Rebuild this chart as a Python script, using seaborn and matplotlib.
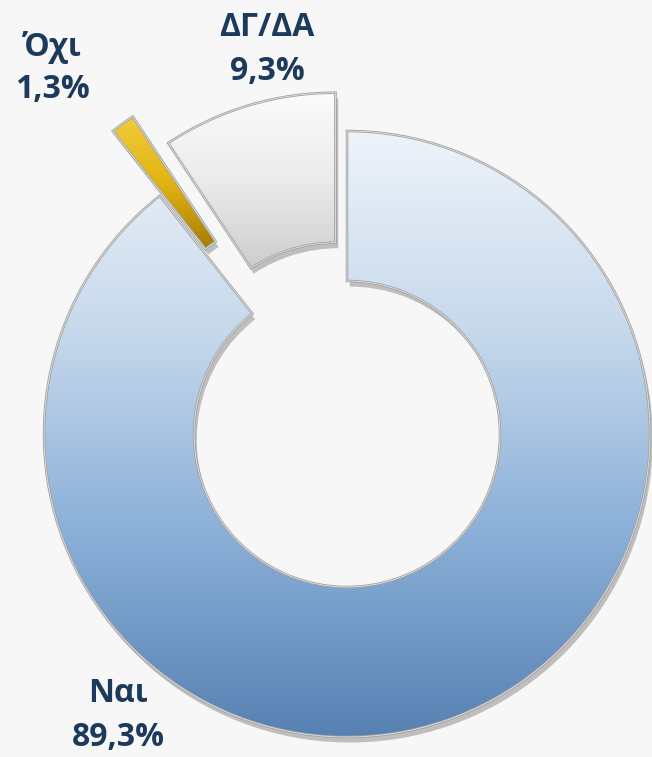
import numpy as np
import matplotlib.pyplot as plt
import matplotlib.patches as mpatches
import matplotlib.patheffects as pe
import seaborn as sns
from matplotlib.colors import LinearSegmentedColormap

answers = ['Ναι', 'Όχι', 'ΔΓ/ΔΑ']
shares = [89.3, 1.3, 9.3]
share_labels = ['89,3%', '1,3%', '9,3%']

BG = '#f7f7f7'
TEXT_COLOR = '#1c3a5c'

sns.set_theme(style='white')
plt.rcParams['font.family'] = ['Open Sans', 'DejaVu Sans']

W, H = 652, 757
fig = plt.figure(figsize=(W / 100, H / 100), dpi=100, facecolor=BG)
ax = fig.add_axes([0, 0, 1, 1])
ax.set_facecolor(BG)

# ring geometry (pixel units, y measured from the bottom)
radius = 303
ring_width = 150
center = (347, H - 434)
explode = [0, 80, 40]

wedges, _ = ax.pie(
    shares, startangle=90, counterclock=False, radius=radius, center=center,
    explode=explode, colors=['#8fb2d8', '#d7a80f', '#ececec'],
    wedgeprops=dict(width=ring_width, linewidth=0),
)

gradients = [
    LinearSegmentedColormap.from_list('nai', ['#5781b3', '#8aafd8', '#c6d8ec', '#eef3f9']),
    LinearSegmentedColormap.from_list('oxi', ['#a87b06', '#e2b413', '#f0cc3a']),
    LinearSegmentedColormap.from_list('dk', ['#cdcdcd', '#ebebeb', '#fbfbfb']),
]

ramp = np.linspace(0, 1, 256).reshape(-1, 1)
for wedge, cmap in zip(wedges, gradients):
    wedge.set_zorder(1)
    wedge.set_path_effects([pe.SimplePatchShadow(offset=(2, -4), shadow_rgbFace='#7a7a7a', alpha=0.45),
                            pe.Normal()])
    ext = wedge.get_path().get_extents()
    im = ax.imshow(ramp, cmap=cmap, origin='lower', aspect='auto', zorder=2,
                   extent=(ext.x0, ext.x1, ext.y0, ext.y1), interpolation='bicubic')
    im.set_clip_path(wedge)
    # bevel-like rim
    ax.add_patch(mpatches.PathPatch(wedge.get_path(), fill=False, edgecolor='#a0a0a0',
                                    linewidth=1.8, zorder=3))
    ax.add_patch(mpatches.PathPatch(wedge.get_path(), fill=False, edgecolor='white',
                                    linewidth=0.6, alpha=0.7, zorder=3))

# labels
label_pos = {
    'Ναι': (118, H - 694),
    'Όχι': (52, H - 47),
    'ΔΓ/ΔΑ': (267, H - 28),
}
for name, pct in zip(answers, share_labels):
    x, y = label_pos[name]
    ax.text(x, y, name, ha='center', va='center', fontsize=23, fontweight='bold', color=TEXT_COLOR)
    ax.text(x, y - 43, pct, ha='center', va='center', fontsize=23, fontweight='bold', color=TEXT_COLOR)

ax.set_xlim(0, W)
ax.set_ylim(0, H)
ax.set_aspect('auto')
ax.axis('off')

fig.savefig('out.png', dpi=100, facecolor=BG)
